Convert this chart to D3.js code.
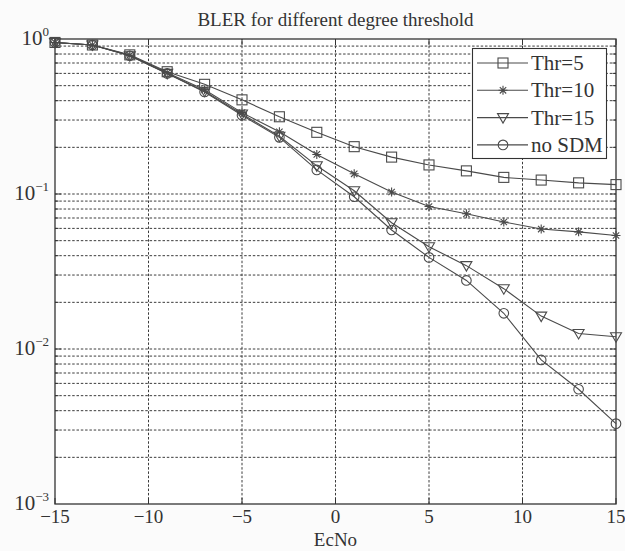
<!DOCTYPE html>
<html>
<head>
<meta charset="utf-8">
<script src="https://cdn.jsdelivr.net/npm/d3@7"></script>
<style>
  body { margin: 0; background: #fbfbfb; }
  svg { display: block; }
  svg text { font-family: "Liberation Serif", "Times New Roman", serif; }
</style>
</head>
<body>
<div id="vis"></div>
<script>
'use strict'

////////////////////////////////////////
//////////////// Data //////////////////
////////////////////////////////////////

const ecno = [-15, -13, -11, -9, -7, -5, -3, -1, 1, 3, 5, 7, 9, 11, 13, 15];

const thr5 = [0.95, 0.915, 0.79, 0.615, 0.51, 0.405, 0.315, 0.25, 0.202, 0.173, 0.154, 0.141, 0.128, 0.123, 0.118, 0.115];
const thr10 = [0.95, 0.915, 0.785, 0.605, 0.47, 0.335, 0.252, 0.18, 0.135, 0.103, 0.083, 0.0745, 0.066, 0.0594, 0.057, 0.054];
const thr15 = [0.95, 0.915, 0.78, 0.6, 0.46, 0.328, 0.236, 0.152, 0.105, 0.0653, 0.0457, 0.0345, 0.0245, 0.0163, 0.0126, 0.012];
const noSDM = [0.95, 0.915, 0.78, 0.6, 0.455, 0.322, 0.232, 0.143, 0.096, 0.0586, 0.039, 0.0277, 0.017, 0.0085, 0.0055, 0.0033];

const seriesNames = ["Thr=5", "Thr=10", "Thr=15", "no SDM"];
const seriesMarkers = ["square", "star", "triangle", "circle"];
const seriesValues = [thr5, thr10, thr15, noSDM];

const xTicks = [-15, -10, -5, 0, 5, 10, 15];
const yDecades = [0, -1, -2, -3];

////////////////////////////////////////
////////////// SVG Setup ///////////////
////////////////////////////////////////

const options = {
  width: 625,
  height: 551,
  margin: { top: 39, right: 9, bottom: 47, left: 55 },
  ink: "#333333",
  line: "#4a4a4a",
  grid: "#3c3c3c"
};

const svg = d3.select('#vis').append('svg')
  .attr('width', options.width)
  .attr('height', options.height);

const x = d3.scaleLinear()
  .domain([-15, 15])
  .range([options.margin.left, options.width - options.margin.right]);

const y = d3.scaleLog()
  .domain([1e-3, 1])
  .range([options.height - options.margin.bottom, options.margin.top]);

const [x0, x1] = x.range();
const [y0, y1] = y.range();

svg.append('rect')
  .attr('x', x0).attr('y', y1)
  .attr('width', x1 - x0).attr('height', y0 - y1)
  .attr('fill', '#ffffff');

////////////////////////////////////////
/////////////// Grid ///////////////////
////////////////////////////////////////

const minorVals = [];
for (let e = -3; e < 0; e++) {
  for (let m = 1; m <= 9; m++) {
    const v = m * Math.pow(10, e);
    if (v > 1e-3) minorVals.push(v);
  }
}

const grid = svg.append('g')
  .attr('stroke', options.grid)
  .attr('stroke-width', 1)
  .attr('stroke-dasharray', '2.5,1.8');

grid.selectAll('.hgrid')
  .data(minorVals)
  .join('line')
  .attr('x1', x0).attr('x2', x1)
  .attr('y1', d => y(d)).attr('y2', d => y(d));

grid.selectAll('.vgrid')
  .data(xTicks.slice(1, -1))
  .join('line')
  .attr('y1', y0).attr('y2', y1)
  .attr('x1', d => x(d)).attr('x2', d => x(d));

////////////////////////////////////////
/////////////// Axes ///////////////////
////////////////////////////////////////

const ticks = svg.append('g').attr('stroke', options.ink).attr('stroke-width', 1);

// minor ticks on left/right
ticks.selectAll('.ly')
  .data(minorVals)
  .join('line')
  .attr('x1', x0).attr('x2', d => x0 + (Math.abs(Math.log10(d) % 1) < 1e-9 ? 6 : 3.5))
  .attr('y1', d => y(d)).attr('y2', d => y(d));

ticks.selectAll('.ry')
  .data(minorVals)
  .join('line')
  .attr('x1', x1).attr('x2', d => x1 - (Math.abs(Math.log10(d) % 1) < 1e-9 ? 6 : 3.5))
  .attr('y1', d => y(d)).attr('y2', d => y(d));

ticks.selectAll('.bx')
  .data(xTicks)
  .join('line')
  .attr('x1', d => x(d)).attr('x2', d => x(d))
  .attr('y1', y0).attr('y2', y0 - 6);

ticks.selectAll('.tx')
  .data(xTicks)
  .join('line')
  .attr('x1', d => x(d)).attr('x2', d => x(d))
  .attr('y1', y1).attr('y2', y1 + 6);

svg.append('rect')
  .attr('x', x0).attr('y', y1)
  .attr('width', x1 - x0).attr('height', y0 - y1)
  .attr('fill', 'none')
  .attr('stroke', options.ink)
  .attr('stroke-width', 1.3);

svg.append('g')
  .selectAll('text')
  .data(xTicks)
  .join('text')
  .attr('x', d => x(d))
  .attr('y', y0 + 19)
  .attr('text-anchor', 'middle')
  .attr('font-size', 19)
  .attr('fill', options.ink)
  .text(d => d < 0 ? '\u2212' + Math.abs(d) : d);

const yLabels = svg.append('g')
  .selectAll('text')
  .data(yDecades)
  .join('text')
  .attr('x', x0 - 6)
  .attr('y', d => y(Math.pow(10, d)) + 6)
  .attr('text-anchor', 'end')
  .attr('font-size', 21)
  .attr('fill', options.ink);

yLabels.append('tspan').text('10');
yLabels.append('tspan')
  .attr('dy', -9)
  .attr('font-size', 13)
  .text(d => d < 0 ? '\u2212' + Math.abs(d) : d);

svg.append('text')
  .attr('x', (x0 + x1) / 2)
  .attr('y', options.height - 5)
  .attr('text-anchor', 'middle')
  .attr('font-size', 19)
  .attr('fill', options.ink)
  .text('EcNo');

svg.append('text')
  .attr('x', (x0 + x1) / 2)
  .attr('y', 26)
  .attr('text-anchor', 'middle')
  .attr('font-size', 19)
  .attr('fill', options.ink)
  .text('BLER for different degree threshold');

////////////////////////////////////////
////////////// Markers /////////////////
////////////////////////////////////////

function drawMarker(g, type) {
  g.attr('fill', 'none').attr('stroke', options.line).attr('stroke-width', 1.1);
  if (type === 'square') {
    g.append('rect').attr('x', -5).attr('y', -5).attr('width', 10).attr('height', 10);
  } else if (type === 'circle') {
    g.append('circle').attr('r', 4.8);
  } else if (type === 'triangle') {
    g.append('path').attr('d', 'M-5.5,-4 L5.5,-4 L0,5.5 Z');
  } else if (type === 'star') {
    g.append('path').attr('d', 'M-4.5,0 L4.5,0 M0,-4.5 L0,4.5 M-3.2,-3.2 L3.2,3.2 M-3.2,3.2 L3.2,-3.2');
  }
}

////////////////////////////////////////
////////////// Series //////////////////
////////////////////////////////////////

const line = d3.line()
  .x(d => x(d[0]))
  .y(d => y(d[1]));

seriesValues.forEach((vals, i) => {
  const pts = ecno.map((e, j) => [e, vals[j]]);

  svg.append('path')
    .datum(pts)
    .attr('fill', 'none')
    .attr('stroke', options.line)
    .attr('stroke-width', 1.1)
    .attr('d', line);

  svg.append('g')
    .selectAll('g')
    .data(pts)
    .join('g')
    .attr('transform', d => `translate(${x(d[0])},${y(d[1])})`)
    .each(function () { drawMarker(d3.select(this), seriesMarkers[i]); });
});

////////////////////////////////////////
////////////// Legend //////////////////
////////////////////////////////////////

const legend = svg.append('g');

legend.append('rect')
  .attr('x', 472.5).attr('y', 48.5)
  .attr('width', 134).attr('height', 110)
  .attr('fill', '#ffffff')
  .attr('stroke', options.ink)
  .attr('stroke-width', 1.1);

seriesNames.forEach((name, i) => {
  const ly = 63 + i * 27.3;
  const item = legend.append('g');
  item.append('line')
    .attr('x1', 477).attr('x2', 528)
    .attr('y1', ly).attr('y2', ly)
    .attr('stroke', options.line)
    .attr('stroke-width', 1.1);
  drawMarker(item.append('g').attr('transform', `translate(503,${ly})`), seriesMarkers[i]);
  item.append('text')
    .attr('x', 531)
    .attr('y', ly + 7)
    .attr('font-size', 21)
    .attr('fill', options.ink)
    .text(name);
});
</script>
</body>
</html>
